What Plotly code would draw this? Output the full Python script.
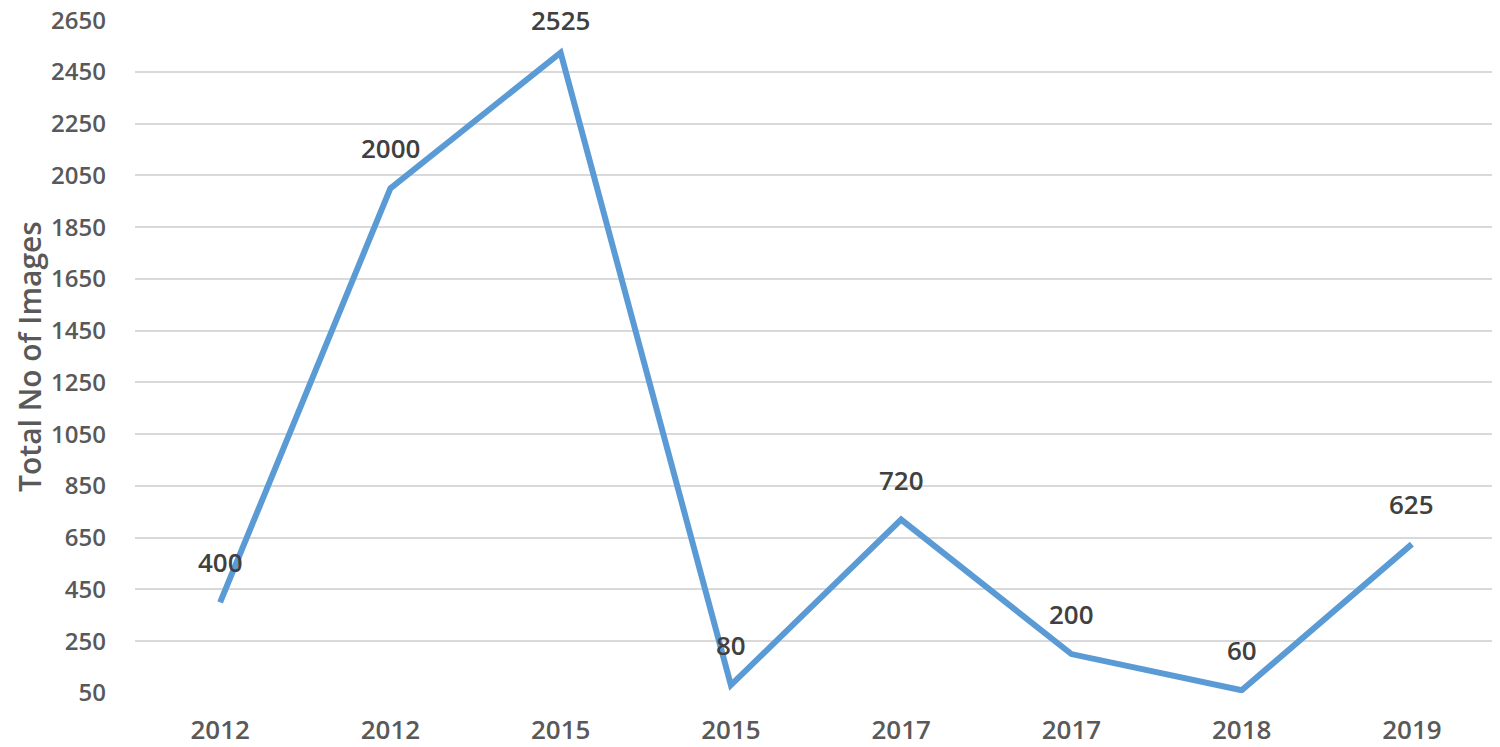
import plotly.graph_objects as go

years = ["2012", "2012", "2015", "2015", "2017", "2017", "2018", "2019"]
images = [400, 2000, 2525, 80, 720, 200, 60, 625]
y_ticks = list(range(50, 2651, 200))

pos = list(range(len(years)))

fig = go.Figure()
fig.add_trace(go.Scatter(
    x=pos, y=images, mode="lines",
    line=dict(color="#5B9BD5", width=6),
    hoverinfo="skip", showlegend=False,
))

top = max(images)
for i, v in zip(pos, images):
    fig.add_annotation(
        x=i, y=v, text=str(v), showarrow=False,
        yshift=40 if v < top else 33,
        font=dict(family="Open Sans", size=26, color="#404040", weight=600),
    )

fig.update_layout(
    width=1492, height=739,
    margin=dict(l=127, r=3, t=12, b=54),
    paper_bgcolor="white", plot_bgcolor="white",
    xaxis=dict(
        range=[-0.5, len(years) - 0.5],
        tickmode="array", tickvals=pos, ticktext=years,
        showgrid=False, zeroline=False, showline=False,
        ticks="", ticklabelstandoff=19, automargin=False,
        ticklabeloverflow="allow",
        tickfont=dict(family="Open Sans", size=26, color="#595959", weight=600),
    ),
    yaxis=dict(
        range=[49.5, 2651],
        tickmode="array", tickvals=y_ticks,
        showgrid=True, gridcolor="#D9D9D9", gridwidth=2,
        zeroline=False, showline=False, ticks="",
        ticklabelstandoff=28, automargin=False,
        ticklabeloverflow="allow",
        tickfont=dict(family="Open Sans", size=24, color="#595959", weight=600),
        title=dict(text="Total No of Images", standoff=0,
                   font=dict(family="Open Sans", size=30, color="#595959", weight=600)),
    ),
)

fig.write_html("out.html")
